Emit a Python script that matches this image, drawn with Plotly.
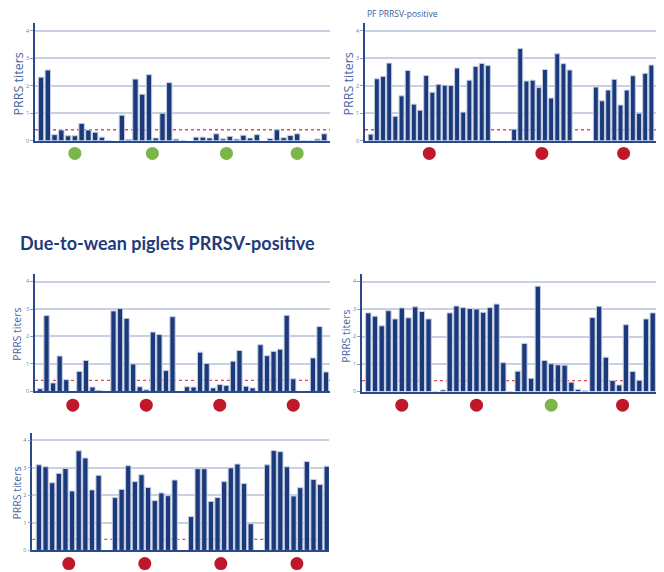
import plotly.graph_objects as go

# ---------------- data (PRRS titers per animal, grouped per sample set) ----------------
P1_G1 = [2.31, 2.57, 0.22, 0.39, 0.18, 0.18, 0.63, 0.39, 0.31, 0.13, 0]
P1_G2 = [0.93, 0.05, 2.24, 1.69, 2.40, 0.10, 1.00, 2.11, 0.06, 0]
P1_G3 = [0.13, 0.13, 0.10, 0.25, 0.07, 0.16, 0.06, 0.20, 0.10, 0.22]
P1_G4 = [0.08, 0.40, 0.11, 0.19, 0.25, 0, 0, 0.06, 0.25]
P1_STATUS = ["neg", "neg", "neg", "neg"]

P2_G1 = [0.24, 2.25, 2.34, 2.82, 0.89, 1.63, 2.55, 1.33, 1.11, 2.37,
         1.76, 2.05, 2.02, 2.01, 2.64, 1.04, 2.20, 2.70, 2.81, 2.73]
P2_G2 = [0.42, 3.35, 2.17, 2.20, 1.93, 2.59, 1.55, 3.16, 2.80, 2.57]
P2_G3 = [1.95, 1.45, 1.84, 2.23, 1.30, 1.84, 2.36, 1.00, 2.45, 2.75]
P2_STATUS = ["pos", "pos", "pos"]

P3_G1 = [0.10, 2.76, 0.31, 1.29, 0.43, 0, 0.73, 1.13, 0.16, 0.04, 0]
P3_G2 = [2.93, 3.02, 2.66, 1.00, 0.17, 0.06, 2.16, 2.07, 0.76, 2.72, 0]
P3_G3 = [0.17, 0.16, 1.43, 1.02, 0.13, 0.25, 0.22, 1.10, 1.49, 0.19, 0.13]
P3_G4 = [1.70, 1.30, 1.46, 1.54, 2.77, 0.46, 0, 0, 1.22, 2.36, 0.71]
P3_STATUS = ["pos", "pos", "pos", "pos"]

P4_G1 = [2.86, 2.74, 2.39, 2.94, 2.64, 3.04, 2.68, 3.08, 2.91, 2.64, 0]
P4_G2 = [0.06, 2.86, 3.11, 3.05, 3.02, 3.00, 2.88, 3.05, 3.18, 1.05, 0]
P4_G3 = [0.74, 1.75, 0.48, 3.83, 1.13, 1.01, 0.97, 0.96, 0.34, 0.08, 0.03]
P4_G4 = [2.69, 3.10, 1.25, 0.40, 0.24, 2.43, 0.73, 0.41, 2.64, 2.86]
P4_STATUS = ["pos", "pos", "neg", "pos"]

P5_G1 = [3.11, 3.04, 2.46, 2.80, 2.98, 2.16, 3.62, 3.36, 2.20, 2.73]
P5_G2 = [1.92, 2.22, 3.08, 2.50, 2.75, 2.29, 1.81, 2.09, 1.99, 2.56]
P5_G3 = [1.23, 2.97, 2.97, 1.78, 1.92, 2.50, 3.00, 3.14, 2.43, 0.97]
P5_G4 = [3.11, 3.63, 3.59, 3.04, 1.98, 2.28, 3.23, 2.58, 2.40, 3.06]
P5_STATUS = ["pos", "pos", "pos", "pos"]

CUTOFF = 0.4
Y_TICKS = [0, 1, 2, 3, 4]
Y_TITLE = "PRRS titers"
MAIN_TITLE = "Due-to-wean piglets PRRSV-positive"
PF_TITLE = "PF PRRSV-positive"

# ---------------- layout / style ----------------
OFF = 8                      # page body margin in the browser
W, H = 664 - OFF, 572 - OFF  # figure size so that it fills the window
BAR_COLOR = "#1a3a7c"
BAR_EDGE = "#c6cee2"
GRID = "#c9d0e3"
AXIS = "#2b4a8c"
TXT = "#4a65a3"
STATUS_COLOR = {"neg": "#7ab648", "pos": "#c0182b"}


def px_x(v):
    return min(1.0, max(0.0, (v - OFF) / W))


def px_y(v):
    return min(1.0, max(0.0, 1 - (v - OFF) / H))


# per panel: screen pixel box (left, right, top, bottom), x range in slot units,
# gap between groups, axis title centre (px x, px y), axis title font size, dot row y (px)
PANELS = [
    dict(groups=[P1_G1, P1_G2, P1_G3, P1_G4], status=P1_STATUS,
         box=(35, 330, 23.3, 141.7), xr=(-0.89, 42.7), gap=0.95, tpos=(18, 85), tsize=12.5,
         doty=154.5),
    dict(groups=[P2_G1, P2_G2, P2_G3], status=P2_STATUS,
         box=(365, 660, 23.3, 141.7), xr=(-0.92, 46.9), gap=3.25, tpos=(348, 85), tsize=12.5,
         doty=154.5),
    dict(groups=[P3_G1, P3_G2, P3_G3, P3_G4], status=P3_STATUS,
         box=(35, 330, 276, 394.2), xr=(-0.76, 44.2), gap=0.2, tpos=(17, 337), tsize=10.5,
         doty=408),
    dict(groups=[P4_G1, P4_G2, P4_G3, P4_G4], status=P4_STATUS,
         box=(362, 656, 276, 394.3), xr=(-0.94, 42.94), gap=0.15, tpos=(346, 339), tsize=10.5,
         doty=408),
    dict(groups=[P5_G1, P5_G2, P5_G3, P5_G4], status=P5_STATUS,
         box=(32.3, 329, 436, 554.3), xr=(-1.0, 43.75), gap=1.47, tpos=(17, 497), tsize=10.5,
         doty=567.5),
]
Y_MAX = 4.27
NP = len(PANELS)

fig = go.Figure()
annotations = []
shapes = []
layout_axes = {}

for k, p in enumerate(PANELS, start=1):
    xs, ys, centers = [], [], []
    start = 0.0
    for g in p["groups"]:
        for i, v in enumerate(g):
            xs.append(start + i)
            ys.append(v)
        centers.append(start + (len(g) - 1) / 2)
        start += len(g) + p["gap"]
    xa = "x" if k == 1 else f"x{k}"
    ya = "y" if k == 1 else f"y{k}"
    yd = f"y{k + NP}"          # helper axis for the row of status dots
    x0r, x1r = p["xr"]

    fig.add_trace(go.Bar(
        x=xs, y=ys, width=0.8, xaxis=xa, yaxis=ya,
        marker=dict(color=BAR_COLOR, line=dict(color=BAR_EDGE, width=1)),
        showlegend=False, hoverinfo="y"))
    fig.add_trace(go.Scatter(
        x=centers, y=[0] * len(centers), mode="markers", xaxis=xa, yaxis=yd,
        marker=dict(size=13, color=[STATUS_COLOR[s] for s in p["status"]]),
        cliponaxis=False, showlegend=False, hoverinfo="skip"))

    # cut-off line, behind the bars
    shapes.append(dict(
        type="line", xref=xa, yref=ya, x0=x0r, x1=x1r, y0=CUTOFF, y1=CUTOFF,
        line=dict(color="#e04a55", width=1.3, dash="dot"), layer="below"))

    l, r, t, b = p["box"]
    xkey = "xaxis" if k == 1 else f"xaxis{k}"
    ykey = "yaxis" if k == 1 else f"yaxis{k}"
    layout_axes[xkey] = dict(
        domain=[px_x(l), px_x(r)], range=[x0r, x1r], anchor=ya,
        showgrid=False, zeroline=False, showticklabels=False, ticks="",
        showline=True, linecolor=AXIS, linewidth=2.2, fixedrange=True)
    layout_axes[ykey] = dict(
        domain=[px_y(b), px_y(t)], range=[0, Y_MAX], anchor=xa,
        tickvals=Y_TICKS, ticks="outside", ticklen=3, tickcolor="#8e9cc4", tickwidth=1,
        tickfont=dict(size=5.5, color="#6b7fa8", family="Open Sans"),
        showgrid=True, gridcolor=GRID, gridwidth=1.5, zeroline=False,
        showline=True, linecolor=AXIS, linewidth=1.5, fixedrange=True)
    dy = p["doty"]
    layout_axes[f"yaxis{k + NP}"] = dict(
        domain=[px_y(dy + 3), px_y(dy - 3)], range=[-1, 1], anchor=xa,
        visible=False, fixedrange=True)

    annotations.append(dict(
        text=Y_TITLE, textangle=-90, xref="paper", yref="paper",
        x=px_x(p["tpos"][0]), y=px_y(p["tpos"][1]), xanchor="center", yanchor="middle",
        showarrow=False, font=dict(size=p["tsize"], color=TXT, family="Open Sans")))

annotations.append(dict(
    text=PF_TITLE, xref="paper", yref="paper", x=px_x(365), y=px_y(14),
    xanchor="left", yanchor="middle", showarrow=False,
    font=dict(size=8.5, color="#3b5b9b", family="Open Sans")))
annotations.append(dict(
    text="<b>" + MAIN_TITLE + "</b>", xref="paper", yref="paper", x=px_x(18), y=px_y(245),
    xanchor="left", yanchor="middle", showarrow=False,
    font=dict(size=18, color="#1f3b78", family="Lato")))

fig.update_layout(
    width=W, height=H, margin=dict(l=0, r=0, t=0, b=0),
    paper_bgcolor="white", plot_bgcolor="white",
    barmode="overlay", annotations=annotations, shapes=shapes, **layout_axes)

fig.write_html("out.html")
